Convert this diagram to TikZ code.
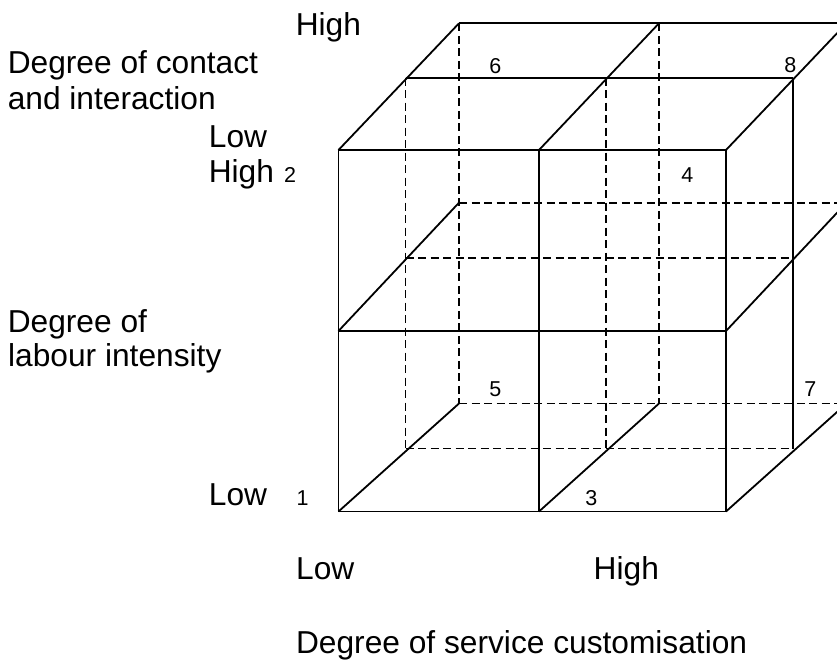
\documentclass[tikz,border=0pt]{standalone}
\usepackage{fontspec}
\setmainfont{Liberation Sans}
\begin{document}
\begin{tikzpicture}[x=1pt,y=-1pt,
  edge/.style={line width=1.8pt, line cap=butt},
  hid/.style={line width=1.8pt, dash pattern=on 8pt off 4.5pt},
  lbl/.style={anchor=base west, inner sep=0pt, font=\fontsize{31.7}{36}\selectfont},
  num/.style={anchor=base, inner sep=0pt, font=\fontsize{21.5}{25}\selectfont}]
\useasboundingbox (0,0) rectangle (837,660);
\begin{scope}
\clip (0,0) rectangle (837,660);
% front layer
\coordinate (FTL) at (338.5,150);   \coordinate (FTM) at (539,150);   \coordinate (FTR) at (726,150);
\coordinate (FML) at (338.5,331);   \coordinate (FMM) at (539,331);   \coordinate (FMR) at (726,331);
\coordinate (FBL) at (338.5,511.5); \coordinate (FBM) at (539,511.5); \coordinate (FBR) at (726,511.5);
% middle depth layer
\coordinate (MTL) at (405.5,77.7);  \coordinate (MTM) at (606,77.7);  \coordinate (MTR) at (793,77.7);
\coordinate (MML) at (405.5,258);   \coordinate (MMR) at (793,258);
\coordinate (MBL) at (405.5,448.5); \coordinate (MBM) at (606,448.5); \coordinate (MBR) at (793,448.5);
% back layer
\coordinate (BTL) at (459,23.3);    \coordinate (BTM) at (659,23.3);  \coordinate (BTR) at (846.5,23.3);
\coordinate (BML) at (459,202.7);   \coordinate (BMR) at (846.5,202.7);
\coordinate (BBL) at (459,403.5);   \coordinate (BBM) at (659,403.5); \coordinate (BBR) at (846.5,403.5);

% hidden (dashed) lines
\draw[hid] (MTL) -- (MBL);
\draw[hid] (BTL) -- (BBL);
\draw[hid] (MTM) -- (MBM);
\draw[hid] (BTM) -- (BBM);
\draw[hid] (MML) -- (MMR);
\draw[hid] (BML) -- (BMR);
\draw[hid] (MBL) -- (MBR);
\draw[hid] (BBL) -- (BBR);

% front face
\draw[edge] (FTL) -- (FTR);
\draw[edge] (FML) -- (FMR);
\draw[edge] (FBL) -- (FBR);
\draw[edge] (FTL) -- (FBL);
\draw[edge] (FTM) -- (FBM);
\draw[edge] (FTR) -- (FBR);
% top
\draw[edge] (BTL) -- (BTR);
\draw[edge] (MTL) -- (MTR);
\draw[edge] (FTL) -- (BTL);
\draw[edge] (FTM) -- (BTM);
\draw[edge] (FTR) -- (BTR);
\draw[edge] (MTR) -- (MBR);
% middle height
\draw[edge] (FML) -- (BML);
\draw[edge] (FMR) -- (BMR);
% bottom
\draw[edge] (FBL) -- (BBL);
\draw[edge] (FBM) -- (BBM);
\draw[edge] (FBR) -- (BBR);
\end{scope}

% cell numbers
\node[num] (n1) at (302.5,505) {1};
\node[num] (n2) at (290,182.7) {2};
\node[num] (n3) at (591.3,505) {3};
\node[num] (n4) at (687.3,183) {4};
\node[num] (n5) at (495.3,396.7) {5};
\node[num] (n6) at (495.3,73.3) {6};
\node[num] (n7) at (810.3,396.7) {7};
\node[num] (n8) at (790.3,72.7) {8};

% axis labels
\node[lbl] (zhigh) at (295.6,36) {High};
\node[lbl] (zt1) at (7.6,74) {Degree of contact};
\node[lbl] (zt2) at (7.6,110) {and interaction};
\node[lbl] (zlow) at (208.7,147.7) {Low};
\node[lbl] (yhigh) at (208.6,182.7) {High};
\node[lbl] (yt1) at (7.6,332.3) {Degree of};
\node[lbl] (yt2) at (8,366.7) {labour intensity};
\node[lbl] (ylow) at (208.7,505) {Low};
\node[lbl] (xlow) at (296,579.3) {Low};
\node[lbl] (xhigh) at (593.5,579.3) {High};
\node[lbl] (xt) at (295.9,653) {Degree of service customisation};
\end{tikzpicture}
\end{document}
